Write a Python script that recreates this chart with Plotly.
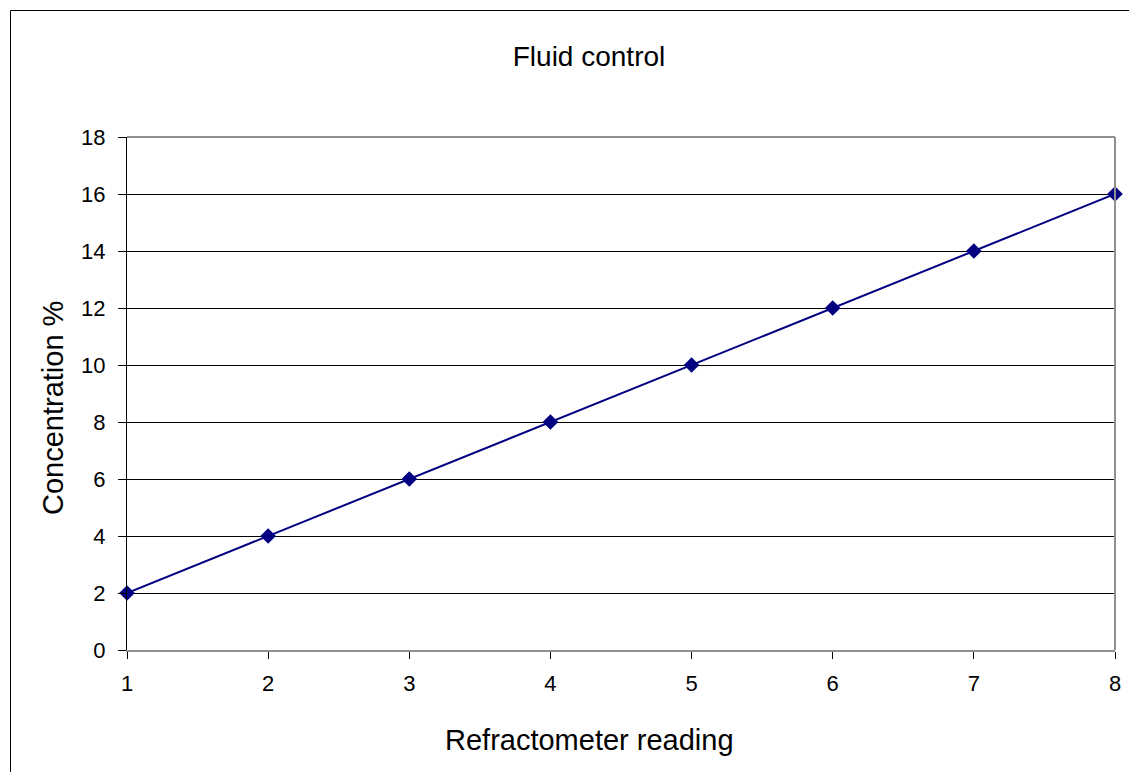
import plotly.graph_objects as go

readings = [1, 2, 3, 4, 5, 6, 7, 8]
concentration = [2, 4, 6, 8, 10, 12, 14, 16]
y_ticks = [0, 2, 4, 6, 8, 10, 12, 14, 16, 18]

OFF = 8  # page body margin
W, H = 1137 - OFF, 772 - OFF
L, T = 127 - OFF, 137 - OFF
R = W - (1115 - OFF)
B = H - (650 - OFF)
pw, ph = W - L - R, H - T - B

def px_x(p):  # screen pixel -> paper
    return (p - OFF - L) / pw

def px_y(p):
    return (H - B - (p - OFF)) / ph

fig = go.Figure()
fig.add_trace(go.Scatter(
    x=readings, y=concentration, mode="lines+markers",
    line=dict(color="#000080", width=2),
    marker=dict(symbol="diamond", size=12, color="#000080"),
    showlegend=False, cliponaxis=False,
))

font = "Liberation Sans, Arial, sans-serif"
fig.update_layout(
    width=W, height=H,
    margin=dict(l=L, r=R, t=T, b=B),
    paper_bgcolor="white", plot_bgcolor="white",
    font=dict(family=font, color="black", size=22),
    title=dict(text="Fluid control", xref="container", x=(589 - OFF) / W,
               xanchor="center", yref="container",
               y=(H - (56 - OFF)) / H, yanchor="middle", font=dict(size=28)),
    xaxis=dict(range=[1, 8], tickvals=readings, ticks="outside", ticklen=7,
               tickcolor="black", showgrid=False, zeroline=False,
               showline=True, linecolor="#909090", linewidth=2,
               ticklabelstandoff=6),
    yaxis=dict(range=[0, 18], tickvals=y_ticks, ticks="outside", ticklen=8,
               tickcolor="black", showgrid=True, gridcolor="black", gridwidth=1,
               zeroline=False, showline=True, linecolor="black", linewidth=1,
               ticklabelstandoff=8),
    annotations=[
        dict(text="Refractometer reading", xref="paper", yref="paper",
             x=px_x(589), y=px_y(740), xanchor="center", yanchor="middle",
             showarrow=False, font=dict(size=29)),
        dict(text="Concentration %", xref="paper", yref="paper", textangle=-90,
             x=px_x(53), y=px_y(408), xanchor="center", yanchor="middle",
             showarrow=False, font=dict(size=29)),
    ],
    shapes=[
        dict(type="line", xref="paper", yref="paper", x0=0, x1=1, y0=1, y1=1,
             line=dict(color="#909090", width=2), layer="above"),
        dict(type="line", xref="paper", yref="paper", x0=1, x1=1, y0=0, y1=1,
             line=dict(color="#909090", width=2), layer="above"),
        dict(type="rect", xref="paper", yref="paper",
             x0=px_x(10.5), x1=px_x(1145), y0=px_y(10.5), y1=px_y(780),
             line=dict(color="black", width=1), layer="below"),
    ],
)

fig.write_html("out.html")
